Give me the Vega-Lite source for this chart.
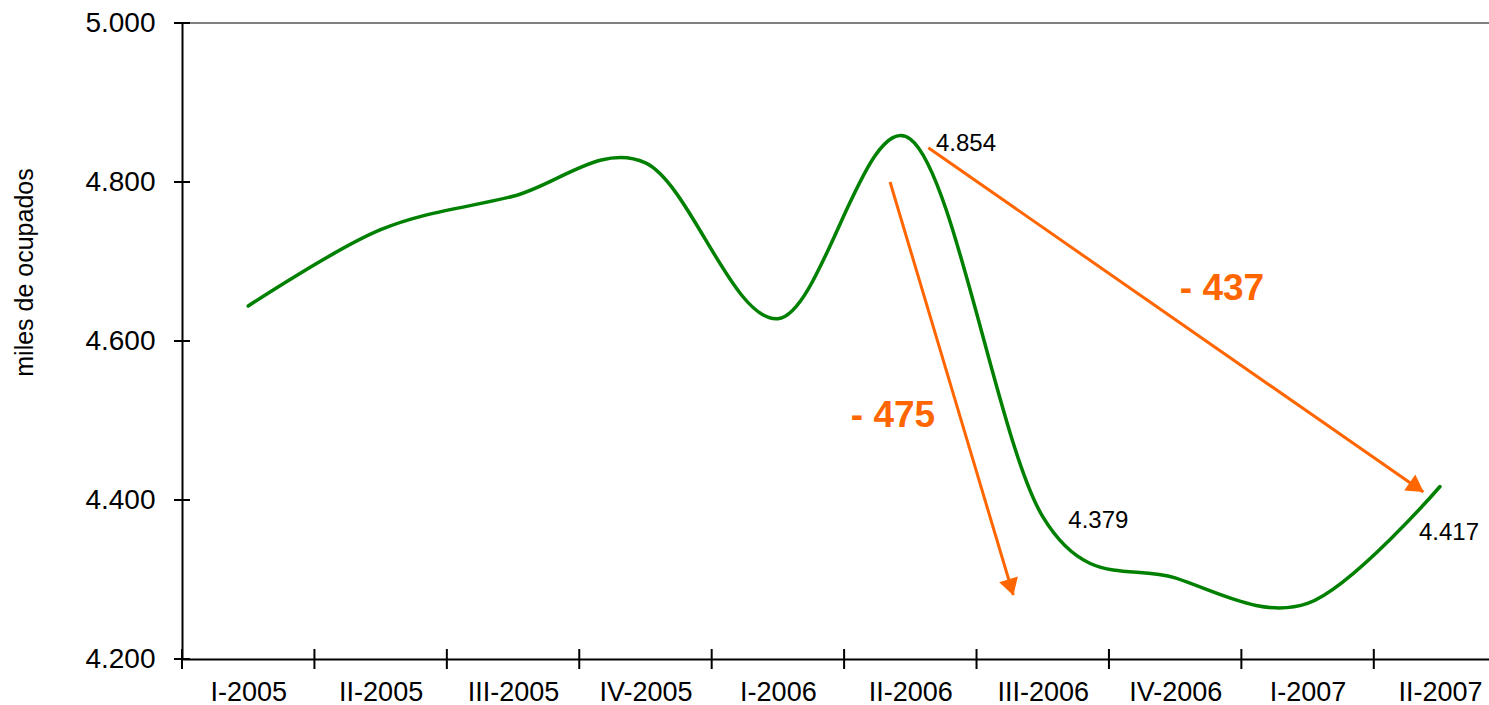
{
  "$schema": "https://vega.github.io/schema/vega-lite/v6.json",
  "width": 1307,
  "height": 636,
  "autosize": {"type": "none"},
  "padding": {"left": 182, "top": 23, "right": 0, "bottom": 46},
  "background": "white",
  "config": {
    "view": {"stroke": null},
    "font": "Liberation Sans",
    "axis": {"grid": false}
  },
  "datasets": {
    "ocupados": [
      {"idx": 0, "trimestre": "I-2005", "ocupados": 4644},
      {"idx": 1, "trimestre": "II-2005", "ocupados": 4740},
      {"idx": 2, "trimestre": "III-2005", "ocupados": 4782},
      {"idx": 3, "trimestre": "IV-2005", "ocupados": 4824},
      {"idx": 4, "trimestre": "I-2006", "ocupados": 4628},
      {"idx": 5, "trimestre": "II-2006", "ocupados": 4854},
      {"idx": 6, "trimestre": "III-2006", "ocupados": 4379},
      {"idx": 7, "trimestre": "IV-2006", "ocupados": 4302},
      {"idx": 8, "trimestre": "I-2007", "ocupados": 4270},
      {"idx": 9, "trimestre": "II-2007", "ocupados": 4417}
    ],
    "borde": [
      {"idx": -0.5, "ocupados": 5000, "idx2": 9.37, "ocupados2": 5000}
    ],
    "marcas_x": [
      {"idx": -0.5, "ocupados": 4200},
      {"idx": 0.5, "ocupados": 4200},
      {"idx": 1.5, "ocupados": 4200},
      {"idx": 2.5, "ocupados": 4200},
      {"idx": 3.5, "ocupados": 4200},
      {"idx": 4.5, "ocupados": 4200},
      {"idx": 5.5, "ocupados": 4200},
      {"idx": 6.5, "ocupados": 4200},
      {"idx": 7.5, "ocupados": 4200},
      {"idx": 8.5, "ocupados": 4200}
    ],
    "marcas_y": [
      {"idx": -0.5, "ocupados": 4200},
      {"idx": -0.5, "ocupados": 4400},
      {"idx": -0.5, "ocupados": 4600},
      {"idx": -0.5, "ocupados": 4800},
      {"idx": -0.5, "ocupados": 5000}
    ],
    "flechas": [
      {"idx": 4.847, "ocupados": 4800, "idx2": 5.778, "ocupados2": 4280.5},
      {"idx": 5.136, "ocupados": 4843, "idx2": 8.874, "ocupados2": 4410}
    ],
    "punta1": [{"idx": 5.76, "ocupados": 4290}],
    "punta2": [{"idx": 8.824, "ocupados": 4416}],
    "etiquetas": [
      {"idx": 5.194, "ocupados": 4848, "texto": "4.854"},
      {"idx": 6.193, "ocupados": 4374, "texto": "4.379"},
      {"idx": 8.841, "ocupados": 4359, "texto": "4.417"}
    ],
    "diferencias": [
      {"idx": 4.869, "ocupados": 4506, "texto": "- 475"},
      {"idx": 7.354, "ocupados": 4666, "texto": "- 437"}
    ]
  },
  "encoding": {
    "x": {
      "field": "idx", "type": "quantitative",
      "scale": {"domain": [-0.5, 9.37], "nice": false, "zero": false},
      "axis": {
        "title": null,
        "values": [0, 1, 2, 3, 4, 5, 6, 7, 8, 9],
        "labelExpr": "['I-2005','II-2005','III-2005','IV-2005','I-2006','II-2006','III-2006','IV-2006','I-2007','II-2007'][datum.value]",
        "ticks": false,
        "labelPadding": 20,
        "labelFontSize": 27,
        "labelColor": "black",
        "labelFlush": false,
        "labelOverlap": false,
        "domainColor": "black",
        "domainWidth": 2
      }
    },
    "y": {
      "field": "ocupados", "type": "quantitative",
      "scale": {"domain": [4200, 5000], "nice": false, "zero": false},
      "axis": {
        "title": "miles de ocupados",
        "values": [4200, 4400, 4600, 4800, 5000],
        "labelExpr": "format(datum.value/1000, '.3f')",
        "ticks": false,
        "labelPadding": 27,
        "labelFontSize": 28,
        "labelColor": "black",
        "labelFlush": false,
        "labelOverlap": false,
        "domainColor": "black",
        "domainWidth": 2,
        "titleFontSize": 25,
        "titleFontWeight": "normal",
        "titleColor": "black",
        "titleAngle": -90,
        "titleX": -158,
        "titleY": 249,
        "titleAlign": "center",
        "titleBaseline": "middle"
      }
    }
  },
  "layer": [
    {
      "data": {"name": "borde"},
      "mark": {"type": "rule", "color": "#808080", "strokeWidth": 2},
      "encoding": {"x2": {"field": "idx2"}, "y2": {"field": "ocupados2"}}
    },
    {
      "data": {"name": "ocupados"},
      "mark": {"type": "line", "interpolate": "cardinal", "color": "#008000", "strokeWidth": 3.5, "strokeCap": "round"}
    },
    {
      "data": {"name": "marcas_x"},
      "mark": {"type": "tick", "orient": "vertical", "size": 20, "thickness": 2, "color": "black", "opacity": 1}
    },
    {
      "data": {"name": "marcas_y"},
      "mark": {"type": "tick", "orient": "horizontal", "size": 16, "thickness": 2, "color": "black", "opacity": 1}
    },
    {
      "data": {"name": "flechas"},
      "mark": {"type": "rule", "color": "#FF6600", "strokeWidth": 3},
      "encoding": {"x2": {"field": "idx2"}, "y2": {"field": "ocupados2"}}
    },
    {
      "data": {"name": "punta1"},
      "mark": {"type": "point", "shape": "triangle-up", "angle": 163.4, "size": 380, "filled": true, "color": "#FF6600", "opacity": 1}
    },
    {
      "data": {"name": "punta2"},
      "mark": {"type": "point", "shape": "triangle-up", "angle": 124.8, "size": 380, "filled": true, "color": "#FF6600", "opacity": 1}
    },
    {
      "data": {"name": "etiquetas"},
      "mark": {"type": "text", "align": "left", "baseline": "middle", "fontSize": 24, "color": "black"},
      "encoding": {"text": {"field": "texto"}}
    },
    {
      "data": {"name": "diferencias"},
      "mark": {"type": "text", "align": "center", "baseline": "middle", "fontSize": 37, "fontWeight": "bold", "color": "#FF6600"},
      "encoding": {"text": {"field": "texto"}}
    }
  ]
}
